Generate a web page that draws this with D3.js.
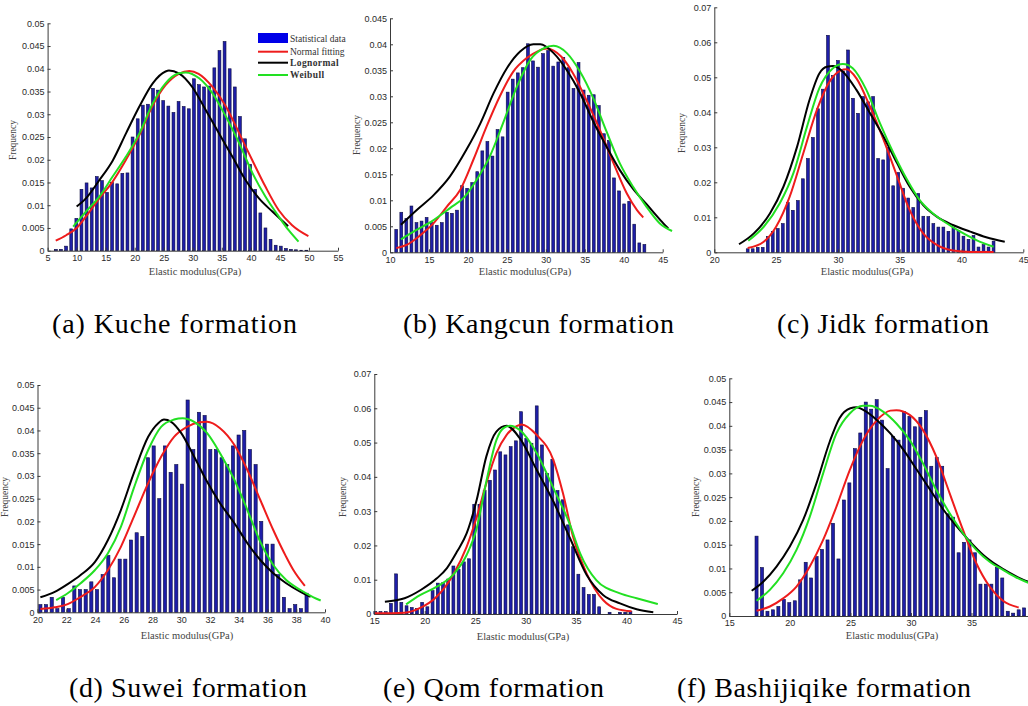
<!DOCTYPE html>
<html>
<head>
<meta charset="utf-8">
<script src="https://cdn.jsdelivr.net/npm/d3@7"></script>
<style>
  body { margin: 0; background: #fff; }
  svg { display: block; }
  .tick text { font-family: "Liberation Sans", Arial, sans-serif; font-size: 9px; fill: #2a2a2a; }
  .axis path, .axis line { stroke: #3a3a3a; }
</style>
</head>
<body>
<svg width="1028" height="706"></svg>
<script>
const svg = d3.select("svg");
const serifFont = "'Liberation Serif', 'Times New Roman', monospace";

// ---- histogram frequencies (one bar per bin) ----
const kucheFreq = [0.0003,0.0003,0.001,0.0048,0.0071,0.0135,0.0149,0.0138,0.0163,0.0154,
  0.0128,0.015,0.0147,0.017,0.0171,0.025,0.029,0.032,0.0322,0.0357,
  0.0353,0.033,0.0318,0.0304,0.0328,0.0317,0.0312,0.0378,0.0365,0.036,
  0.0362,0.0402,0.044,0.046,0.040,0.036,0.0295,0.0246,0.019,0.0135,
  0.0083,0.005,0.0025,0.0012,0.001,0.0005,0.0003,0.0002,0.0001,0.0001];
const kangcunFreq = [0.0044,0.0077,0.0065,0.0089,0.0057,0.006,0.0067,0.0057,0.0052,0.0057,
  0.0077,0.0075,0.0081,0.0128,0.0123,0.0134,0.0155,0.0195,0.0213,0.0185,
  0.0236,0.0222,0.0308,0.0333,0.0345,0.0355,0.0401,0.0368,0.0356,0.0382,
  0.0388,0.0358,0.0366,0.0375,0.0355,0.0315,0.0365,0.0312,0.0302,0.0303,
  0.0282,0.0228,0.0215,0.0143,0.0118,0.0093,0.0098,0.0054,0.0018,0.0015];
const jidkFreq = [0.001,0.001,0.0014,0.0014,0.0045,0.006,0.0068,0.0082,0.0142,0.012,
  0.0148,0.021,0.0268,0.0328,0.041,0.0466,0.062,0.0505,0.0548,0.0518,
  0.0578,0.044,0.0397,0.0445,0.043,0.0445,0.0268,0.0264,0.030,0.019,
  0.0228,0.0183,0.0155,0.0128,0.0168,0.0103,0.0102,0.0082,0.0072,0.0072,
  0.006,0.0072,0.0062,0.0046,0.0037,0.0048,0.0015,0.0022,0.0015,0.0032];
const suweiFreq = [0.0017,0.0017,0.0033,0.0008,0.0033,0.0008,0.0058,0.005,0.005,0.0067,
  0.005,0.0083,0.0125,0.0076,0.0117,0.0117,0.0159,0.0175,0.0167,0.034,
  0.0366,0.025,0.0366,0.0308,0.0325,0.0282,0.0467,0.0358,0.044,0.0433,
  0.0358,0.0358,0.034,0.0325,0.0366,0.039,0.04,0.0358,0.0325,0.02,
  0.015,0.015,0.0083,0.0033,0.0008,0.0017,0.0008,0.0042];
const qomFreq = [0.0007,0.0007,0.0007,0.0031,0.0117,0.0034,0.0024,0.0019,0.0016,0.0034,
  0.0021,0.0068,0.009,0.0091,0.0102,0.014,0.013,0.0152,0.0161,0.032,
  0.032,0.036,0.039,0.042,0.0473,0.0464,0.0488,0.0505,0.059,0.0512,
  0.0498,0.0607,0.0493,0.041,0.0451,0.036,0.0333,0.026,0.0196,0.0116,
  0.0077,0.0057,0.0057,0.0021,0,0.0005,0,0.0005,0.0005,0.0007];
const bashiFreq = [0.0168,0.0102,0.001,0.0013,0.002,0.0035,0.0028,0.0032,0.0076,0.0113,
  0.008,0.0125,0.014,0.016,0.0195,0.012,0.0244,0.028,0.0352,0.0385,
  0.045,0.0435,0.0455,0.0412,0.031,0.0378,0.037,0.043,0.042,0.0398,
  0.0418,0.0432,0.0315,0.0333,0.0315,0.0215,0.0208,0.0133,0.0155,0.016,
  0.0133,0.0067,0.0067,0.0067,0.0102,0.008,0.001,0.0006,0.0013,0.0017];

// bin start / width (GPa)
const kucheBins = [6.43, 0.88];
const kangcunBins = [10.8, 0.65];
const jidkBins = [22.7, 0.406];
const suweiBins = [20.2, 0.394];
const qomBins = [15.1, 0.516];
const bashiBins = [17.25, 0.451];

// ---- fitted curves, [GPa, frequency] ----
const kucheNormal = [[6.4,0.0022],[8.2,0.0034],[10,0.005],[12,0.0082],[13.9,0.0115],[16.2,0.0152],[18.5,0.020],[20.8,0.0254],[23,0.0317],[25.3,0.0364],[27.6,0.0389],[29.4,0.0395],[31,0.0389],[33.4,0.036],[35.7,0.0317],[38,0.0258],[40.2,0.020],[42.5,0.0141],[44.8,0.0089],[47.1,0.0056],[49.9,0.0032]];
const kucheLognormal = [[10,0.0097],[11.6,0.0115],[13.9,0.0155],[16.2,0.0198],[18.5,0.0258],[20.8,0.0317],[23.1,0.0368],[25.3,0.0394],[25.9,0.0396],[27.6,0.039],[29.9,0.036],[32.2,0.031],[34.5,0.0258],[36.8,0.0207],[39.1,0.0155],[41.4,0.0115],[43.7,0.0086],[46.4,0.0054]];
const kucheWeibull = [[9.4,0.0053],[11.6,0.0086],[13.9,0.0119],[16.2,0.0163],[18.5,0.0207],[20.8,0.0258],[23.1,0.0324],[25.3,0.0368],[27.6,0.039],[28.8,0.0392],[31.1,0.0379],[33.4,0.0346],[35.7,0.0295],[38,0.0236],[40.3,0.017],[42.5,0.0119],[44.8,0.0075],[46.5,0.0045],[48.2,0.002]];

const kangcunNormal = [[10.8,0.0008],[12.1,0.0014],[13.9,0.0033],[15.6,0.0056],[17.3,0.0088],[19,0.012],[20.7,0.0178],[22.4,0.0242],[24.1,0.030],[25.8,0.0347],[27.5,0.0373],[29,0.0387],[30.1,0.0392],[32,0.0376],[33.5,0.0344],[35.2,0.0293],[36.95,0.0235],[38.7,0.0171],[40.4,0.0113],[41.7,0.0081],[42.5,0.0067]];
const kangcunLognormal = [[11.4,0.0053],[13.4,0.0081],[15.6,0.011],[17.7,0.0146],[19.8,0.0197],[21.6,0.0248],[23.3,0.0306],[25,0.0354],[26.7,0.0386],[28.4,0.040],[29.3,0.040],[31,0.0383],[32.7,0.035],[34.4,0.0306],[36.1,0.0251],[37.8,0.0203],[39.5,0.0158],[41.2,0.0122],[42.9,0.0093],[44.7,0.0062],[45.7,0.0046]];
const kangcunWeibull = [[11.4,0.0025],[13.4,0.0043],[15.6,0.0062],[17.7,0.0085],[19.6,0.0107],[21.1,0.0139],[22.8,0.0184],[24.5,0.0248],[26.3,0.0319],[28,0.037],[29.7,0.0392],[31,0.0397],[32.7,0.0383],[34.4,0.0347],[36.1,0.0296],[37.8,0.0232],[39.5,0.0171],[41.2,0.0126],[42.9,0.0088],[44.6,0.0056],[46.2,0.0041]];

const jidkNormal = [[22.7,0.0012],[24,0.003],[25,0.0073],[26.1,0.0159],[27.2,0.0283],[28.3,0.0407],[29.4,0.0492],[30.2,0.0519],[30.7,0.0523],[31.5,0.0497],[32.6,0.0416],[33.7,0.0321],[34.8,0.0216],[35.8,0.0121],[36.9,0.0054],[38,0.0021],[39.3,0.0005],[40.7,0.0001],[42.6,0.0001]];
const jidkLognormal = [[22,0.0023],[23.2,0.0054],[24.5,0.0111],[25.6,0.0188],[26.7,0.0302],[27.7,0.0435],[28.5,0.0511],[29.1,0.053],[29.6,0.0532],[30.4,0.0516],[31.5,0.0464],[32.6,0.0397],[33.7,0.033],[34.8,0.0254],[35.8,0.0188],[36.9,0.0135],[38,0.0102],[39.3,0.0078],[40.7,0.0059],[42,0.0043],[43.5,0.003]];
const jidkWeibull = [[22.75,0.0033],[24,0.0073],[25.3,0.014],[26.4,0.0226],[27.5,0.0359],[28.5,0.0469],[29.6,0.0526],[30.4,0.0538],[31.2,0.0526],[32.3,0.0464],[33.4,0.0369],[34.5,0.0283],[35.6,0.0207],[36.6,0.015],[37.7,0.0111],[38.8,0.0083],[39.9,0.0059],[41.2,0.0035],[42.6,0.0016]];

const suweiNormal = [[20.2,0.0007],[21.2,0.0011],[22.1,0.0018],[23,0.0034],[24,0.0056],[24.9,0.0093],[25.8,0.0144],[26.7,0.021],[27.7,0.0284],[28.6,0.0342],[29.5,0.0386],[30.4,0.0408],[31.3,0.0418],[31.8,0.0419],[32.7,0.0405],[33.7,0.0368],[34.6,0.0313],[35.5,0.0247],[36.4,0.0181],[37.3,0.0122],[37.8,0.0093],[38.6,0.0058]];
const suweiLognormal = [[20.2,0.0033],[21.2,0.0045],[22.1,0.0062],[23,0.0082],[24,0.0111],[24.9,0.0159],[25.8,0.0225],[26.7,0.0306],[27.7,0.0386],[28.4,0.0416],[28.8,0.0424],[29.3,0.0419],[30,0.0394],[30.9,0.0342],[31.8,0.0287],[32.7,0.024],[33.7,0.0196],[34.6,0.0152],[35.5,0.0115],[36.4,0.0086],[37.3,0.0064],[38.3,0.0045],[39,0.0034]];
const suweiWeibull = [[21.3,0.0027],[22.1,0.0042],[23,0.0064],[24,0.0093],[24.9,0.013],[25.8,0.0188],[26.7,0.0273],[27.7,0.0357],[28.6,0.0408],[29.5,0.0424],[30.1,0.0427],[30.9,0.0419],[31.8,0.0394],[32.7,0.035],[33.7,0.0291],[34.6,0.0225],[35.5,0.0155],[36.4,0.0104],[37.3,0.0071],[38.3,0.0049],[39.2,0.0033],[39.7,0.0026]];

const qomNormal = [[15.07,0.0002],[18,0.0004],[19.5,0.0017],[21.2,0.0051],[22.8,0.0114],[24.15,0.0196],[25.15,0.0283],[26.1,0.0381],[27.1,0.0469],[28.1,0.0522],[29.1,0.0548],[29.6,0.0553],[31.1,0.0522],[32.75,0.0449],[33.7,0.0352],[34.7,0.0225],[36.05,0.0118],[37.7,0.004],[39,0.0015],[40.5,0.0008]];
const qomLognormal = [[16.05,0.0036],[18,0.0046],[19.6,0.007],[21.2,0.0104],[22.2,0.0134],[23.2,0.0182],[24.15,0.0235],[25.15,0.0333],[26.1,0.0459],[27.1,0.0532],[28.1,0.0549],[29.43,0.0512],[31.1,0.042],[32.75,0.0328],[34.4,0.0221],[36.05,0.0114],[37.7,0.0055],[39.35,0.0031],[41,0.0014],[42.65,0.0005]];
const qomWeibull = [[18.15,0.0028],[19.53,0.0055],[21.2,0.008],[22.8,0.0114],[24.15,0.0172],[25.15,0.025],[26.1,0.0386],[27.1,0.0507],[27.8,0.0542],[28.45,0.0549],[29.4,0.0537],[31.1,0.0469],[32.75,0.0367],[34.4,0.026],[35.4,0.0177],[37,0.0099],[39.35,0.006],[41,0.0046],[43.1,0.0029]];

const bashiNormal = [[17.25,0.0011],[18.35,0.002],[19.45,0.0037],[20.55,0.0062],[21.65,0.0104],[22.75,0.016],[23.85,0.023],[24.95,0.0307],[26.05,0.037],[27.2,0.0412],[28.3,0.0432],[28.8,0.0433],[29.9,0.0423],[31,0.0391],[32.1,0.0335],[33.2,0.0258],[34.3,0.0181],[35.4,0.0111],[36.5,0.0062],[37.6,0.0032],[38.9,0.0018]];
const bashiLognormal = [[16.85,0.0053],[17.8,0.0072],[18.9,0.0104],[20,0.0146],[21.1,0.0202],[22.2,0.0279],[23.3,0.0367],[24.1,0.0416],[25,0.0437],[25.5,0.0439],[26.1,0.0433],[27.2,0.0412],[28.3,0.0384],[29.4,0.0349],[30.5,0.0307],[31.6,0.0265],[32.7,0.0223],[33.8,0.0188],[34.9,0.0156],[36,0.0128],[37.1,0.0107],[38.2,0.009],[39.3,0.0076],[39.7,0.0072]];
const bashiWeibull = [[17.25,0.0032],[18.35,0.0055],[19.45,0.009],[20.55,0.0139],[21.65,0.0209],[22.75,0.03],[23.85,0.0384],[24.95,0.0426],[26.05,0.0442],[26.6,0.0442],[27.7,0.043],[28.8,0.0405],[29.9,0.037],[31,0.0321],[32.1,0.0265],[33.2,0.0216],[34.3,0.0174],[35.4,0.0139],[36.5,0.0114],[37.6,0.0097],[38.7,0.0081],[39.7,0.007]];

// axis settings
const kucheAxes = { xDom: [5, 55], xTicks: d3.range(5, 56, 5), yDom: [0, 0.05], yStep: 0.005 };
const kangcunAxes = { xDom: [10, 45], xTicks: d3.range(10, 46, 5), yDom: [0, 0.045], yStep: 0.005 };
const jidkAxes = { xDom: [20, 45], xTicks: d3.range(20, 46, 5), yDom: [0, 0.07], yStep: 0.01 };
const suweiAxes = { xDom: [20, 40], xTicks: d3.range(20, 41, 2), yDom: [0, 0.05], yStep: 0.005 };
const qomAxes = { xDom: [15, 45], xTicks: d3.range(15, 46, 5), yDom: [0, 0.07], yStep: 0.01 };
const bashiAxes = { xDom: [15, 40], xTicks: d3.range(15, 36, 5), yDom: [0, 0.05], yStep: 0.005 };

const captions = ["(a)  Kuche formation", "(b) Kangcun formation", "(c) Jidk formation",
  "(d) Suwei formation", "(e) Qom formation", "(f) Bashijiqike formation"];

const fitColors = { normal: "#ee1c1c", logn: "#000000", weib: "#22e022" };

// layout of each panel on the page (pixels); cap = [left, baseline, width]
const panels = [
  { ax: kucheAxes, freq: kucheFreq, bins: kucheBins, normal: kucheNormal, logn: kucheLognormal, weib: kucheWeibull,
    left: 47.6, right: 338, bottom: 250.7, top: 23.3, ylab: [13, 140], xlab: [195, 275], cap: [52, 333, 245], legend: true },
  { ax: kangcunAxes, freq: kangcunFreq, bins: kangcunBins, normal: kangcunNormal, logn: kangcunLognormal, weib: kangcunWeibull,
    left: 390, right: 662.7, bottom: 252.3, top: 18.3, ylab: [357, 135], xlab: [525, 275], cap: [403, 333, 271] },
  { ax: jidkAxes, freq: jidkFreq, bins: jidkBins, normal: jidkNormal, logn: jidkLognormal, weib: jidkWeibull,
    left: 714.3, right: 1023.3, bottom: 252.3, top: 7.3, ylab: [682, 133], xlab: [867, 275], cap: [777, 333, 212] },
  { ax: suweiAxes, freq: suweiFreq, bins: suweiBins, normal: suweiNormal, logn: suweiLognormal, weib: suweiWeibull,
    left: 37.5, right: 325, bottom: 612.3, top: 385, ylab: [5, 497], xlab: [187, 639], cap: [69, 697, 238] },
  { ax: qomAxes, freq: qomFreq, bins: qomBins, normal: qomNormal, logn: qomLognormal, weib: qomWeibull,
    left: 374.3, right: 677, bottom: 614, top: 374, ylab: [343, 497], xlab: [523, 640], cap: [383, 697, 221] },
  { ax: bashiAxes, freq: bashiFreq, bins: bashiBins, normal: bashiNormal, logn: bashiLognormal, weib: bashiWeibull,
    left: 729.3, right: 1032, bottom: 616, top: 378.3, ylab: [696, 497], xlab: [892, 639], cap: [677, 697, 294] }
];

svg.append("rect").attr("width", 1028).attr("height", 706).attr("fill", "#fff");

const fmtY = d => d === 0 ? "0" : String(+d.toFixed(3));

panels.forEach((p, idx) => {
  const x = d3.scaleLinear().domain(p.ax.xDom).range([p.left, p.right]);
  const y = d3.scaleLinear().domain(p.ax.yDom).range([p.bottom, p.top]);
  const g = svg.append("g");

  // histogram bars
  const bw = (x(p.bins[1]) - x(0)) * 0.56;
  g.selectAll("rect.bar")
    .data(p.freq)
    .join("rect")
    .attr("class", "bar")
    .attr("x", (d, i) => x(p.bins[0] + i * p.bins[1]) - bw / 2)
    .attr("y", d => y(d))
    .attr("width", bw)
    .attr("height", d => Math.max(0, y(0) - y(d)))
    .attr("fill", "#1e1ea8")
    .attr("stroke", "#0b0b40")
    .attr("stroke-width", 0.6)
    .attr("display", d => d > 0 ? null : "none");

  // axes (MATLAB style: ticks inward, no box)
  const yTicks = d3.range(0, p.ax.yDom[1] + 1e-9, p.ax.yStep);
  g.append("g").attr("class", "axis")
    .attr("transform", `translate(0,${p.bottom})`)
    .call(d3.axisBottom(x).tickValues(p.ax.xTicks).tickSizeInner(-3).tickSizeOuter(0).tickPadding(4));
  g.append("g").attr("class", "axis")
    .attr("transform", `translate(${p.left},0)`)
    .call(d3.axisLeft(y).tickValues(yTicks).tickFormat(fmtY).tickSizeInner(-3).tickSizeOuter(0).tickPadding(3));

  // fitted curves
  const line = d3.line().x(d => x(d[0])).y(d => y(d[1])).curve(d3.curveMonotoneX);
  [["normal", p.normal], ["logn", p.logn], ["weib", p.weib]].forEach(([k, pts]) => {
    g.append("path").attr("d", line(pts))
      .attr("fill", "none").attr("stroke", fitColors[k]).attr("stroke-width", 2);
  });

  // axis titles
  g.append("text")
    .attr("transform", `translate(${p.ylab[0]},${p.ylab[1]}) rotate(-90)`)
    .attr("text-anchor", "middle").attr("dominant-baseline", "central")
    .style("font-family", serifFont).style("font-size", "9.5px")
    .attr("fill", "#444").text("Frequency");
  g.append("text")
    .attr("x", p.xlab[0]).attr("y", p.xlab[1])
    .attr("text-anchor", "middle")
    .style("font-family", serifFont).style("font-size", "10.5px")
    .attr("fill", "#444").text("Elastic modulus(GPa)");

  // caption
  svg.append("text")
    .attr("x", p.cap[0]).attr("y", p.cap[1])
    .attr("textLength", p.cap[2]).attr("lengthAdjust", "spacing")
    .style("font-family", serifFont).style("font-size", "28px")
    .attr("fill", "#000").text(captions[idx]);

  if (p.legend) {
    const lg = g.append("g");
    lg.append("rect").attr("x", 258).attr("y", 33).attr("width", 30).attr("height", 10).attr("fill", "#0000e8");
    lg.append("text").attr("x", 290).attr("y", 41.5)
      .style("font-family", serifFont).style("font-size", "9.5px").attr("fill", "#333")
      .text("Statistical data");
    const items = [["Normal fitting", "normal", 51.7, "normal"], ["Lognormal", "logn", 62.7, "bold"], ["Weibull", "weib", 75, "bold"]];
    items.forEach(([label, k, yy, w]) => {
      lg.append("line").attr("x1", 258).attr("x2", 288).attr("y1", yy).attr("y2", yy)
        .attr("stroke", fitColors[k]).attr("stroke-width", 2);
      lg.append("text").attr("x", 290).attr("y", yy + 3.2)
        .style("font-family", serifFont).style("font-size", "9.5px").style("font-weight", w)
        .style("letter-spacing", w === "bold" ? "0.4px" : "0px").attr("fill", "#333")
        .text(label);
    });
  }
});
</script>
</body>
</html>
